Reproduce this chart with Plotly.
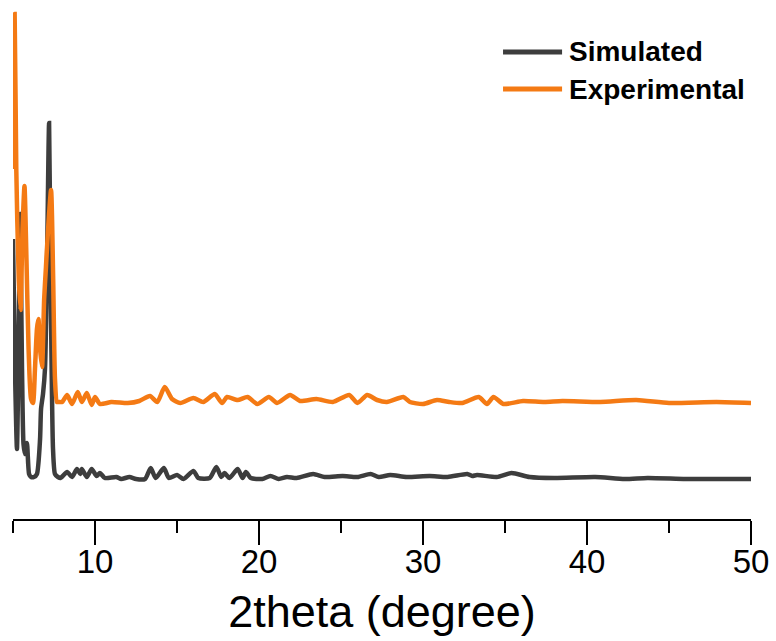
import plotly.graph_objects as go

# Powder XRD patterns: 2theta (degree) vs intensity (a.u.)
sim_2theta = [5.00, 5.12, 5.24, 5.36, 5.43, 5.55, 5.64, 5.73, 5.85, 5.98, 6.10, 6.28, 6.46,
              6.65, 6.71, 6.83, 6.95, 7.07, 7.20, 7.32, 7.44, 7.56, 7.74,
              7.90, 8.30, 8.60, 8.90, 9.10, 9.20, 9.50, 9.80, 10.1, 10.3, 10.6, 11.3, 11.6,
              12.1, 12.5, 13.05, 13.4, 13.7, 14.2, 14.5, 15.0, 15.4, 16.0, 16.3, 17.0, 17.4,
              17.7, 17.9, 18.2, 18.7, 19.0, 19.2, 19.5, 20.2, 20.7, 21.2, 21.7, 22.3, 23.3,
              24.0, 25.1, 26.0, 26.8, 27.3, 28.0, 29.0, 30.4, 31.5, 32.7, 33.0, 33.3, 34.5,
              35.4, 36.5, 38.0, 40.5, 42.3, 43.7, 46.0, 48.0, 50.0]
sim_intensity = [2800, 1500, 700, 2000, 3050, 1500, 750, 650, 760, 450, 420, 420, 450,
                 800, 1100, 1250, 1500, 2500, 3960, 2000, 700, 450, 420,
                 410, 470, 420, 500, 450, 500, 420, 500, 430, 460, 410, 420, 400,
                 420, 400, 400, 510, 410, 510, 410, 440, 400, 480, 410, 410, 520,
                 420, 460, 410, 500, 410, 470, 410, 400, 430, 400, 420, 410, 450,
                 420, 430, 420, 450, 420, 440, 420, 430, 420, 450, 430, 440, 420,
                 460, 420, 410, 420, 400, 410, 400, 400, 400]

exp_2theta = [5.00, 5.10, 5.20, 5.35, 5.46, 5.58, 5.70, 5.82, 5.95, 6.10, 6.22, 6.34, 6.46,
              6.55, 6.65, 6.77, 6.90, 7.01, 7.14, 7.32, 7.45, 7.56, 7.68, 7.80,
              8.00, 8.30, 8.60, 8.95, 9.20, 9.50, 9.80, 10.0, 10.3, 11.0, 12.0, 12.7, 13.35,
              13.8, 14.25, 14.7, 15.2, 16.0, 16.6, 17.3, 17.75, 18.05, 18.7, 19.3, 19.9, 20.6,
              21.1, 21.9, 22.5, 23.5, 24.5, 25.5, 26.0, 26.6, 27.2, 27.8, 28.8, 29.2, 30.0,
              30.85, 31.6, 32.4, 33.4, 33.9, 34.3, 34.9, 36.1, 37.4, 38.5, 40.8, 43.0, 45.0,
              47.9, 50.0]
exp_intensity = [3500, 5050, 3500, 2400, 2090, 2900, 3330, 2600, 1700, 1200, 1160, 1500, 1900,
                 2000, 1700, 1520, 2200, 2520, 2900, 3290, 2400, 1400, 1170, 1170,
                 1170, 1240, 1150, 1270, 1170, 1260, 1140, 1220, 1150, 1170, 1160, 1180, 1230,
                 1170, 1320, 1200, 1160, 1210, 1170, 1250, 1160, 1220, 1190, 1220, 1150, 1220,
                 1160, 1240, 1180, 1200, 1170, 1240, 1160, 1240, 1190, 1170, 1220, 1170, 1150,
                 1190, 1170, 1160, 1220, 1150, 1220, 1150, 1180, 1170, 1180, 1170, 1190, 1160,
                 1170, 1160]

series_names = ["Simulated", "Experimental"]
series_colors = ["#3d3d3d", "#f47a14"]
x_ticks = [10, 20, 30, 40, 50]

FONT = "Arial, Liberation Sans, sans-serif"

fig = go.Figure()
fig.add_trace(go.Scatter(x=sim_2theta, y=sim_intensity, mode="lines", name=series_names[0],
                         line=dict(color=series_colors[0], width=4.5, shape="spline",
                                   smoothing=0.6)))
fig.add_trace(go.Scatter(x=exp_2theta, y=exp_intensity, mode="lines", name=series_names[1],
                         line=dict(color=series_colors[1], width=4.5, shape="spline",
                                   smoothing=0.6)))

# Legend drawn as line samples plus bold labels in the upper right
legend_rows = [0.900, 0.8285]
for name, color, yy in zip(series_names, series_colors, legend_rows):
    fig.add_shape(type="line", xref="paper", yref="paper", x0=0.664, x1=0.744, y0=yy, y1=yy,
                  line=dict(color=color, width=5))
    fig.add_annotation(xref="paper", yref="paper", x=0.750, y=yy, text=f"<b>{name}</b>",
                       showarrow=False, xanchor="left", yanchor="middle",
                       font=dict(family=FONT, size=28, color="black"))

fig.update_layout(
    width=776, height=641,
    margin=dict(l=13, r=25, t=0, b=122),
    paper_bgcolor="white", plot_bgcolor="white",
    showlegend=False,
    font=dict(family=FONT, color="black"),
    xaxis=dict(
        range=[5, 50], tickvals=x_ticks, showgrid=False, zeroline=False,
        showline=True, linecolor="black", linewidth=2,
        ticks="outside", ticklen=24, tickwidth=2, tickcolor="black",
        tickfont=dict(family=FONT, size=33, color="black"),
        ticklabelstandoff=-12,
        minor=dict(dtick=5, tick0=5, ticks="outside", ticklen=12, tickwidth=2,
                   tickcolor="black", showgrid=False),
        title=dict(text="2theta (degree)", font=dict(family=FONT, size=45, color="black"),
                   standoff=17),
    ),
    yaxis=dict(range=[0, 5190], visible=False, showgrid=False, zeroline=False),
)

fig.write_html("out.html")
